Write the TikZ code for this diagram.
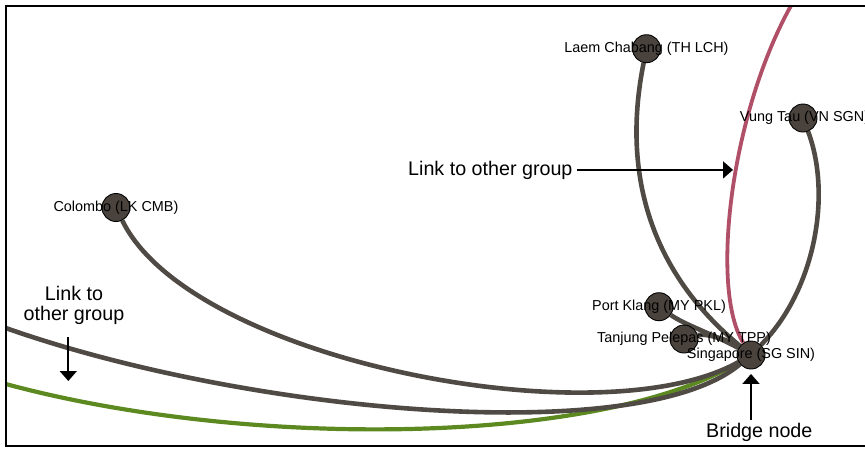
\documentclass[tikz,border=0pt]{standalone}
\usepackage{fontspec}
\setmainfont{Liberation Sans}
\usetikzlibrary{arrows.meta}
\pgfdeclarelayer{edges}
\pgfsetlayers{edges,main}
\definecolor{linkgray}{RGB}{80,74,68}
\definecolor{portfill}{RGB}{74,67,61}
\definecolor{linkpink}{RGB}{176,80,104}
\definecolor{linkgreen}{RGB}{92,138,32}

\tikzset{
  port/.style={circle, draw=black, line width=0.9pt, fill=portfill,
    minimum size=28pt, inner sep=0pt},
  portname/.style={font=\fontsize{14.4}{16}\selectfont, inner sep=0pt},
  link/.style={draw=linkgray, line width=4.6pt},
  note/.style={font=\fontsize{19.7}{19.5}\selectfont, inner sep=0pt, align=center},
  pointer/.style={draw=black, line width=1.8pt,
    -{Triangle[width=17pt,length=10pt]}},
  frame/.style={draw=black, line width=2pt}
}

\begin{document}
\begin{tikzpicture}[x=1pt,y=-1pt]
\useasboundingbox (0,0) rectangle (865,448);

% open frame: top, left and bottom sides
\draw[frame] (866,5.7) -- (5.7,5.7) -- (5.7,445.6) -- (866,445.6);

% ports
\node[port] (lch) at (646.5,48.7) {};
\node[port] (vtu) at (803,118) {};
\node[port] (cmb) at (116,207.5) {};
\node[port] (pkl) at (659,306.7) {};
\node[port] (tpp) at (684,339) {};
\node[port] (sin) at (751,355) {};

\node[portname] (lchname) at (lch) {Laem Chabang (TH LCH)};
\node[portname] (vtuname) at ([xshift=1.5pt]vtu) {Vung Tau (VN SGN)};
\node[portname] (cmbname) at (cmb) {Colombo (LK CMB)};
\node[portname] (pklname) at (pkl) {Port Klang (MY PKL)};
\node[portname] (tppname) at (tpp) {Tanjung Pelepas (MY TPP)};
\node[portname] (sinname) at (sin) {Singapore (SG SIN)};

% loose ends of links that leave the group
\coordinate (westgray) at (5.7,328);
\coordinate (westgreen) at (5.7,384);
\coordinate (northpink) at (791,5.7);

\begin{pgfonlayer}{edges}
  \draw[link, draw=linkgreen, line width=4.2pt] (westgreen) .. controls (250,450) and (600,445) .. (sin);
  \draw[link] (westgray) .. controls (250,414) and (640,448) .. (sin);
  \draw[link] (cmb) .. controls (190,360) and (600,440) .. (sin);
  \draw[link] (lch) .. controls (622,170) and (648,270) .. (sin);
  \draw[link] (vtu) .. controls (832,195) and (815,290) .. (sin);
  \draw[link] (pkl) .. controls (685,325) and (715,335) .. (sin);
  \draw[link] (tpp) .. controls (705,333) and (730,340) .. (sin);
  \draw[link, draw=linkpink, line width=3.8pt] (northpink) .. controls (730,115) and (710,290) .. (sin);
\end{pgfonlayer}

% annotations
\node[note, anchor=base west] (othernote) at (408,175) {Link to other group};
\coordinate (pinktarget) at (733,169.3);
\draw[pointer] ([xshift=4pt]othernote.east) -- (othernote.east -| pinktarget);

\node[note] (leftnote) at (74,305.3) {Link to\\other group};
\coordinate (leftstart) at (68.3,337);
\coordinate (lefttip) at (68.3,381);
\draw[pointer] (leftstart) -- (lefttip);

\node[note, anchor=base] (bridgenote) at (759.3,437) {Bridge node};
\draw[pointer, shorten >=4.5pt] ([yshift=3pt]bridgenote.north -| sin) -- (sin.south);
\end{tikzpicture}
\end{document}
